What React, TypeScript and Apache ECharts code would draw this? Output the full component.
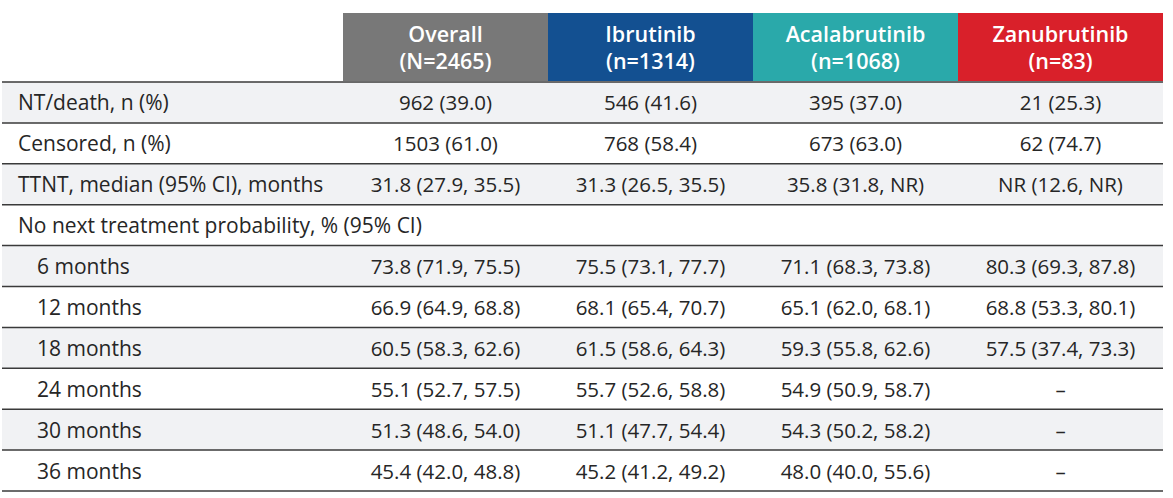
import React, { useEffect, useRef } from "react";
import * as echarts from "echarts";

const groups = ["Overall", "Ibrutinib", "Acalabrutinib", "Zanubrutinib"];
const groupN = ["(N=2465)", "(n=1314)", "(n=1068)", "(n=83)"];
const groupColors = ["#787878", "#135091", "#2aa9aa", "#d9202a"];

const rowLabels = [
  "NT/death, n (%)",
  "Censored, n (%)",
  "TTNT, median (95% CI), months",
  "No next treatment probability, % (95% CI)",
  "6 months",
  "12 months",
  "18 months",
  "24 months",
  "30 months",
  "36 months",
];
const indented = [false, false, false, false, true, true, true, true, true, true];

const overall = ["962 (39.0)", "1503 (61.0)", "31.8 (27.9, 35.5)", "", "73.8 (71.9, 75.5)", "66.9 (64.9, 68.8)", "60.5 (58.3, 62.6)", "55.1 (52.7, 57.5)", "51.3 (48.6, 54.0)", "45.4 (42.0, 48.8)"];
const ibrutinib = ["546 (41.6)", "768 (58.4)", "31.3 (26.5, 35.5)", "", "75.5 (73.1, 77.7)", "68.1 (65.4, 70.7)", "61.5 (58.6, 64.3)", "55.7 (52.6, 58.8)", "51.1 (47.7, 54.4)", "45.2 (41.2, 49.2)"];
const acalabrutinib = ["395 (37.0)", "673 (63.0)", "35.8 (31.8, NR)", "", "71.1 (68.3, 73.8)", "65.1 (62.0, 68.1)", "59.3 (55.8, 62.6)", "54.9 (50.9, 58.7)", "54.3 (50.2, 58.2)", "48.0 (40.0, 55.6)"];
const zanubrutinib = ["21 (25.3)", "62 (74.7)", "NR (12.6, NR)", "", "80.3 (69.3, 87.8)", "68.8 (53.3, 80.1)", "57.5 (37.4, 73.3)", "–", "–", "–"];

const columns = [overall, ibrutinib, acalabrutinib, zanubrutinib];

const FONT = "'Open Sans', sans-serif";
const TEXT = "#262626";
const SHADE = "#f1f2f4";
const LINE = "#3a3a3a";
const LABEL_COL_W = 341;
const HEADER_H = 69;

export default function App() {
  const ref = useRef<HTMLDivElement>(null);

  useEffect(() => {
    if (!ref.current) return;
    const chart = echarts.init(ref.current, null, { renderer: "svg" });

    const cells: { col: number; row: number; text: string }[] = [];
    columns.forEach((col, c) =>
      col.forEach((t, r) => {
        if (t) cells.push({ col: c, row: r, text: t });
      })
    );

    const option: any = {
      animation: false,
      backgroundColor: "#ffffff",
      grid: { left: 343, right: 10, top: 82, bottom: 7 },
      xAxis: {
        type: "category",
        data: groups,
        axisLine: { show: false },
        axisTick: { show: false },
        axisLabel: { show: false },
        splitLine: { show: false },
      },
      yAxis: {
        type: "category",
        data: rowLabels,
        inverse: true,
        z: 10,
        axisLine: { show: false },
        axisTick: { show: false },
        splitLine: { show: false },
        axisLabel: {
          align: "left",
          margin: 325,
          formatter: (v: string, i: number) =>
            indented[i] ? `{ind|${v}}` : `{n|${v}}`,
          rich: {
            n: { fontFamily: FONT, fontSize: 21, color: TEXT },
            ind: { fontFamily: FONT, fontSize: 21, color: TEXT, padding: [0, 0, 0, 19] },
          },
        },
      },
      series: [
        {
          type: "custom",
          name: "rows",
          clip: false,
          silent: true,
          z: 1,
          data: rowLabels.map((_, i) => [0, i]),
          renderItem: (params: any, api: any) => {
            const r = api.value(1);
            const cy = api.coord([0, r])[1];
            const h = api.size([0, 1])[1];
            const cs = params.coordSys;
            const x0 = cs.x - LABEL_COL_W;
            const x1 = cs.x + cs.width;
            const top = cy - h / 2;
            const bottom = cy + h / 2;
            const children: any[] = [];
            if (r % 2 === 0) {
              children.push({
                type: "rect",
                shape: { x: x0, y: top, width: x1 - x0, height: h },
                style: { fill: SHADE },
              });
            }
            children.push({
              type: "line",
              shape: { x1: x0, y1: bottom, x2: x1, y2: bottom },
              style: { stroke: LINE, lineWidth: 1.5 },
              z2: 10,
            });
            if (r === 0) {
              children.push({
                type: "line",
                shape: { x1: x0, y1: top, x2: x1, y2: top },
                style: { stroke: LINE, lineWidth: 1.5 },
                z2: 10,
              });
            }
            return { type: "group", children };
          },
        },
        {
          type: "custom",
          name: "header",
          clip: false,
          silent: true,
          z: 2,
          data: groups.map((_, i) => [i, 0]),
          renderItem: (params: any, api: any) => {
            const c = api.value(0);
            const cx = api.coord([c, 0])[0];
            const w = api.size([1, 0])[0];
            const cs = params.coordSys;
            const top = cs.y - HEADER_H;
            return {
              type: "group",
              children: [
                {
                  type: "rect",
                  shape: { x: cx - w / 2, y: top, width: w, height: HEADER_H - 1 },
                  style: { fill: groupColors[c] },
                },
                {
                  type: "text",
                  style: {
                    x: cx,
                    y: top + HEADER_H / 2 - 1,
                    text: groups[c] + "\n" + groupN[c],
                    fill: "#ffffff",
                    font: `600 21.5px ${FONT}`,
                    lineHeight: 27,
                    align: "center",
                    verticalAlign: "middle",
                  },
                },
              ],
            };
          },
        },
        {
          type: "custom",
          name: "cells",
          clip: false,
          silent: true,
          z: 3,
          data: cells.map((d) => [d.col, d.row]),
          renderItem: (params: any, api: any) => {
            const d = cells[params.dataIndex];
            const p = api.coord([api.value(0), api.value(1)]);
            return {
              type: "text",
              style: {
                x: p[0],
                y: p[1],
                text: d.text,
                fill: TEXT,
                font: `20.5px ${FONT}`,
                align: "center",
                verticalAlign: "middle",
              },
            };
          },
        },
      ],
    };

    chart.setOption(option);
    return () => chart.dispose();
  }, []);

  return (
    <div
      ref={ref}
      style={{ position: "absolute", left: 0, top: 0, width: 1173, height: 498 }}
    />
  );
}
